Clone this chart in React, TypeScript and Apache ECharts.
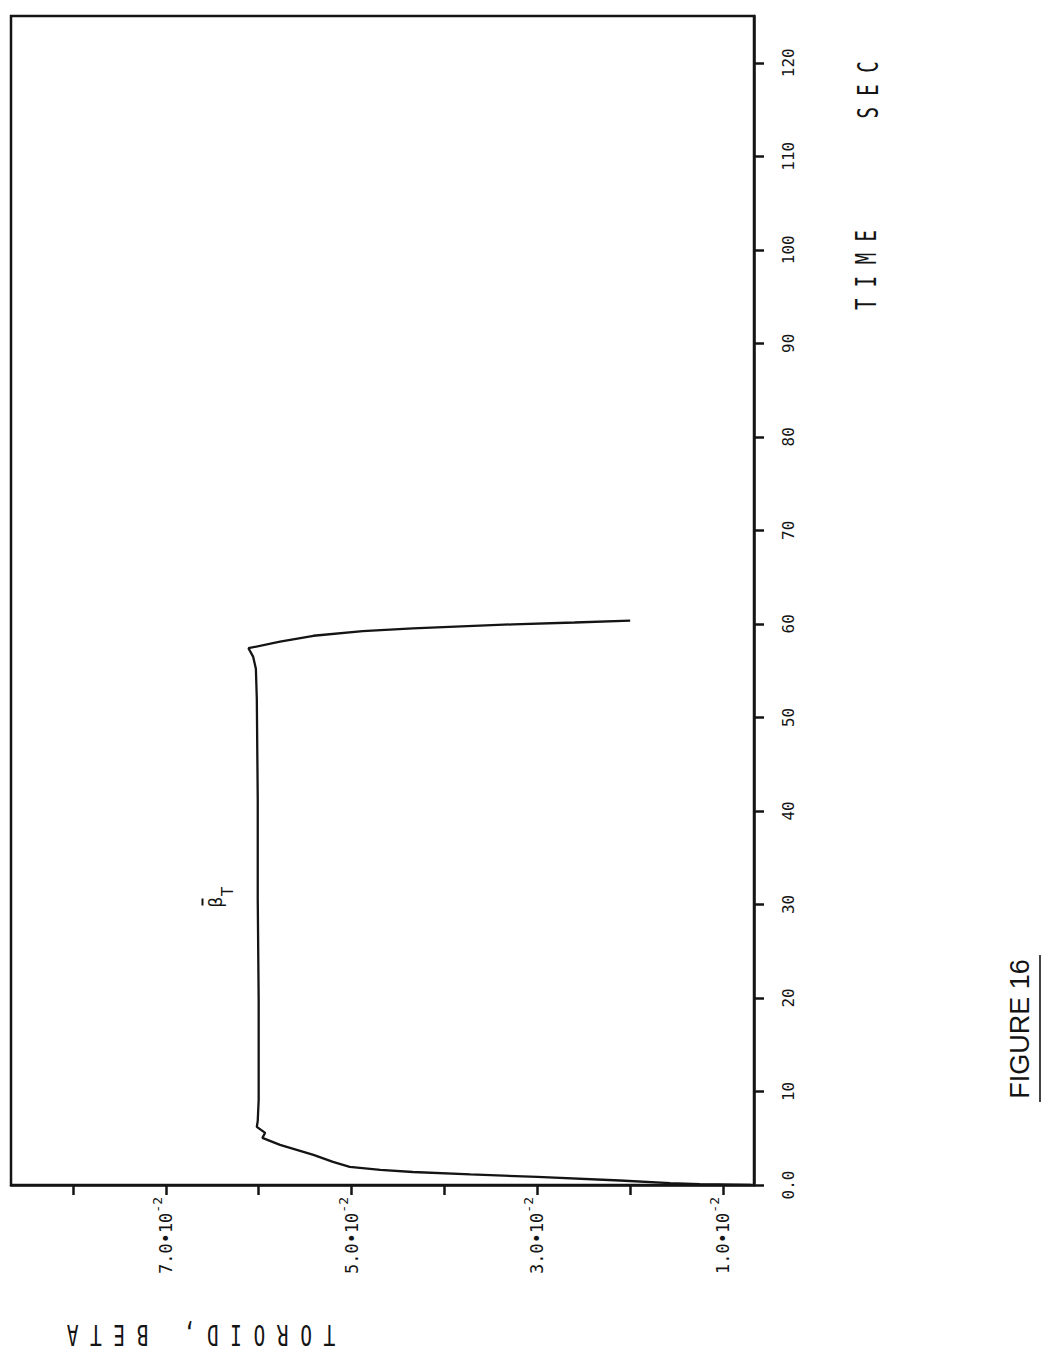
import React, { useEffect, useRef } from "react";
import * as echarts from "echarts";

// Toroidal beta vs. time (beta in absolute units, time in seconds)
const timeSec = [
  0, 0.1, 0.21, 0.48, 0.86, 1.13, 1.39, 1.61, 1.93, 2.47, 3.22, 4.29, 5.04, 5.58,
  6.22, 6.85, 9.1, 19.8, 30.6, 41.3, 52.0, 55.2, 56.5, 57.4, 58.09, 58.73, 59.23,
  59.52, 59.95, 60.15, 60.34,
];
const betaT = [
  0.007, 0.0125, 0.0157, 0.0211, 0.03, 0.0372, 0.0434, 0.0469, 0.0502, 0.052,
  0.0541, 0.0577, 0.0596, 0.0593, 0.0602, 0.0601, 0.06, 0.06, 0.0601, 0.0601,
  0.0602, 0.0603, 0.0606, 0.0611, 0.0577, 0.0541, 0.0488, 0.0434, 0.0326, 0.026,
  0.02,
];

const betaTicks = [0.01, 0.02, 0.03, 0.04, 0.05, 0.06, 0.07, 0.08];
const betaLabels = [0.01, 0.03, 0.05, 0.07];
const timeTicks = [0, 10, 20, 30, 40, 50, 60, 70, 80, 90, 100, 110, 120];

const INK = "#141414";
const MONO_FAMILY = "DejaVu Sans Mono";
const MONO = "'DejaVu Sans Mono', monospace";

export default function App() {
  const ref = useRef<HTMLDivElement>(null);

  useEffect(() => {
    if (!ref.current) return;
    const chart = echarts.init(ref.current, undefined, { renderer: "svg" });
    const points = timeSec.map((t, i) => [betaT[i], t]);

    chart.setOption({
      animation: false,
      backgroundColor: "#ffffff",
      grid: {
        left: 11,
        right: 304,
        top: 16,
        bottom: 177,
        containLabel: false,
        outerBoundsMode: "none",
        show: true,
        borderColor: INK,
        borderWidth: 2.5,
      },
      xAxis: {
        type: "value",
        inverse: true,
        position: "bottom",
        min: 0.0066667,
        max: 0.0866667,
        axisLine: { show: true, lineStyle: { color: INK, width: 2.5 } },
        axisTick: {
          show: true,
          length: 10,
          customValues: betaTicks,
          lineStyle: { color: INK, width: 2.5 },
        },
        splitLine: { show: false },
        axisLabel: {
          customValues: betaLabels,
          rotate: 90,
          margin: 12,
          color: INK,
          fontFamily: MONO_FAMILY,
          fontSize: 17,
          formatter: (v: number) => `{m|${(v * 100).toFixed(1)}•10}{sup|-2}`,
          rich: {
            m: { fontFamily: MONO_FAMILY, fontSize: 17, lineHeight: 30, color: INK },
            sup: {
              fontFamily: MONO_FAMILY,
              fontSize: 13,
              lineHeight: 14,
              verticalAlign: "top",
              color: INK,
            },
          },
        },
      },
      yAxis: {
        type: "value",
        position: "right",
        min: 0,
        max: 125,
        interval: 10,
        axisLine: { show: true, lineStyle: { color: INK, width: 2.5 } },
        axisTick: {
          show: true,
          length: 10,
          customValues: timeTicks,
          lineStyle: { color: INK, width: 2.5 },
        },
        splitLine: { show: false },
        axisLabel: {
          rotate: 90,
          margin: 26,
          color: INK,
          fontFamily: MONO_FAMILY,
          fontSize: 16,
          showMaxLabel: false,
          formatter: (v: number) => (v > 120 ? "" : v === 0 ? "0.0" : String(v)),
        },
      },
      series: [
        {
          type: "line",
          data: points,
          symbol: "none",
          smooth: false,
          lineStyle: { color: INK, width: 2.3 },
          z: 3,
        },
      ],
      graphic: [
        // time axis title
        {
          type: "text",
          x: 867,
          y: 270,
          rotation: Math.PI / 2,
          scaleY: 1.45,
          style: {
            text: "T I M E",
            font: `19px ${MONO}`,
            fill: INK,
            align: "center",
            verticalAlign: "middle",
            textAlign: "center",
            textVerticalAlign: "middle",
          },
        },
        {
          type: "text",
          x: 869,
          y: 90,
          rotation: Math.PI / 2,
          scaleY: 1.45,
          style: {
            text: "S E C",
            font: `19px ${MONO}`,
            fill: INK,
            align: "center",
            verticalAlign: "middle",
            textAlign: "center",
            textVerticalAlign: "middle",
          },
        },
        // beta axis title
        {
          type: "text",
          x: 201,
          y: 1334,
          rotation: Math.PI,
          scaleY: 1.45,
          style: {
            text: "T O R O I D ,   B E T A",
            font: `19.4px ${MONO}`,
            fill: INK,
            align: "center",
            verticalAlign: "middle",
            textAlign: "center",
            textVerticalAlign: "middle",
          },
        },
        // curve label: beta-bar sub T
        {
          type: "group",
          x: 216,
          y: 902,
          rotation: Math.PI / 2,
          children: [
            {
              type: "text",
              x: 0,
              y: 0,
              style: {
                text: "β",
                font: "17px 'DejaVu Sans', sans-serif",
                fill: INK,
                align: "center",
                verticalAlign: "middle",
                textAlign: "center",
                textVerticalAlign: "middle",
              },
            },
            {
              type: "text",
              x: 10.5,
              y: 11,
              style: {
                text: "T",
                font: `16px ${MONO}`,
                fill: INK,
                align: "center",
                verticalAlign: "middle",
                textAlign: "center",
                textVerticalAlign: "middle",
              },
            },
            {
              type: "line",
              shape: { x1: -3.5, y1: -13.5, x2: 3.5, y2: -13.5 },
              style: { stroke: INK, lineWidth: 2 },
            },
          ],
        },
        // figure caption
        {
          type: "text",
          x: 1020,
          y: 1029,
          rotation: Math.PI / 2,
          style: {
            text: "FIGURE 16",
            font: "27px 'Liberation Sans', sans-serif",
            fill: INK,
            align: "center",
            verticalAlign: "middle",
            textAlign: "center",
            textVerticalAlign: "middle",
          },
        },
        {
          type: "line",
          shape: { x1: 1040, y1: 955, x2: 1040, y2: 1102 },
          style: { stroke: INK, lineWidth: 1.6 },
        },
      ],
    });

    return () => chart.dispose();
  }, []);

  return (
    <div
      ref={ref}
      style={{ position: "fixed", left: 0, top: 0, width: 1058, height: 1362 }}
    />
  );
}
